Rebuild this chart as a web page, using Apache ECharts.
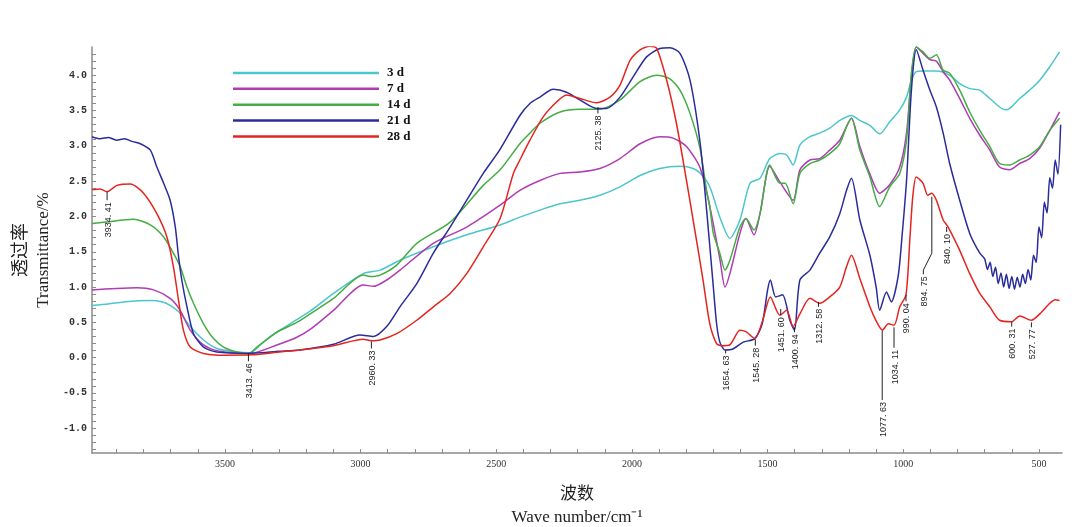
<!DOCTYPE html>
<html><head><meta charset="utf-8">
<script src="https://cdn.jsdelivr.net/npm/echarts@6/dist/echarts.min.js"></script>
<style>html,body{margin:0;padding:0;background:#fff}#c{width:1074px;height:527px}</style>
</head><body><div id="c"></div>
<script>
const seriesNames = ['3 d','7 d','14 d','21 d','28 d'];
const seriesColors = ['#4cc6cc','#b03cb4','#44ad44','#2a2c9c','#e42420'];

const wn3 = [3990,3930,3874,3775,3730,3702,3665,3628,3579,3530,3456,3407,3370,3333,3260,3186,3100,2990,2928,2855,2732,2609,2486,2413,2339,2265,2192,2118,2044,1970,1897,1823,1774,1745,1713,1676,1639,1602,1565,1528,1492,1455,1430,1406,1381,1344,1308,1271,1234,1191,1160,1123,1087,1050,1013,988,970,952,927,878,829,792,755,718,681,645,625,608,571,534,497,460,424];
const t3  = [0.74,0.76,0.79,0.81,0.79,0.74,0.63,0.44,0.25,0.13,0.08,0.07,0.18,0.30,0.48,0.66,0.91,1.19,1.24,1.38,1.57,1.74,1.88,1.99,2.09,2.18,2.23,2.30,2.42,2.58,2.68,2.71,2.68,2.60,2.42,1.99,1.69,1.95,2.47,2.54,2.82,2.89,2.87,2.73,3.01,3.13,3.18,3.25,3.36,3.43,3.36,3.29,3.17,3.34,3.51,3.69,3.93,4.05,4.06,4.06,4.00,3.88,3.81,3.79,3.67,3.55,3.51,3.53,3.67,3.79,3.93,4.12,4.33];

const wn7 = [3990,3900,3825,3763,3702,3665,3628,3579,3530,3407,3309,3235,3186,3100,2990,2953,2904,2855,2732,2609,2486,2413,2339,2265,2192,2118,2044,1970,1897,1848,1799,1749,1713,1676,1657,1639,1602,1580,1550,1528,1492,1455,1406,1381,1344,1308,1271,1234,1191,1160,1123,1087,1050,1013,988,970,952,927,902,878,853,829,792,755,718,681,645,608,571,534,497,460,424];
const t7  = [0.96,0.98,0.99,0.96,0.84,0.67,0.39,0.18,0.10,0.06,0.18,0.29,0.40,0.67,1.03,1.01,1.10,1.24,1.62,1.85,2.16,2.37,2.51,2.61,2.63,2.68,2.82,3.03,3.13,3.11,2.99,2.69,2.14,1.40,1.00,1.19,1.76,1.97,1.74,2.04,2.71,2.49,2.23,2.66,2.80,2.82,2.94,3.08,3.39,2.99,2.60,2.33,2.45,2.70,3.18,3.98,4.40,4.31,4.22,4.20,4.05,3.93,3.67,3.39,3.15,2.94,2.70,2.66,2.75,2.82,2.97,3.22,3.48];

const wn14 = [3990,3940,3837,3775,3726,3690,3665,3640,3616,3579,3542,3505,3456,3413,3382,3309,3235,3186,3100,2990,2965,2928,2867,2793,2670,2548,2486,2413,2376,2339,2265,2192,2118,2044,1970,1909,1860,1823,1786,1749,1725,1713,1700,1676,1657,1639,1602,1580,1550,1528,1492,1455,1435,1406,1381,1344,1308,1271,1234,1209,1191,1160,1123,1087,1050,1013,988,970,952,927,902,878,853,829,792,755,718,681,645,608,571,534,497,460,424];
const t14  = [1.90,1.92,1.96,1.88,1.71,1.48,1.29,1.00,0.77,0.48,0.27,0.15,0.08,0.06,0.15,0.36,0.50,0.62,0.84,1.17,1.15,1.17,1.31,1.62,1.92,2.44,2.66,3.03,3.18,3.32,3.48,3.52,3.52,3.65,3.91,4.00,3.95,3.79,3.46,2.96,2.37,2.14,1.76,1.48,1.24,1.38,1.85,1.97,1.81,2.04,2.73,2.47,2.47,2.18,2.61,2.75,2.80,2.89,3.03,3.27,3.39,2.94,2.56,2.14,2.42,2.61,3.08,4.03,4.40,4.33,4.24,4.29,4.07,4.03,3.79,3.48,3.22,2.99,2.75,2.73,2.80,2.87,2.99,3.22,3.39];

const wn21 = [3990,3960,3930,3900,3870,3840,3812,3775,3751,3726,3702,3683,3671,3659,3640,3616,3579,3530,3419,3300,3223,3100,3002,2953,2904,2855,2793,2732,2670,2609,2548,2486,2413,2376,2339,2290,2241,2192,2130,2093,2044,1995,1946,1897,1860,1823,1786,1749,1725,1700,1688,1676,1657,1630,1590,1547,1520,1500,1490,1470,1445,1418,1401,1381,1344,1308,1271,1234,1209,1191,1160,1123,1100,1087,1062,1044,1019,1005,988,970,952,927,902,878,853,829,792,755,718,700,690,680,670,660,650,640,630,620,610,600,590,580,570,560,550,540,530,520,510,500,490,480,470,460,450,440,430,420];
const t21  = [3.13,3.10,3.12,3.08,3.10,3.06,3.03,2.94,2.70,2.47,2.23,1.85,1.43,1.10,0.72,0.34,0.15,0.08,0.06,0.09,0.11,0.19,0.32,0.30,0.44,0.72,1.05,1.48,1.85,2.23,2.61,2.95,3.43,3.60,3.69,3.80,3.76,3.65,3.53,3.53,3.69,3.98,4.26,4.38,4.39,4.31,3.93,3.05,2.10,1.00,0.48,0.22,0.11,0.12,0.22,0.27,0.48,0.96,1.10,0.86,0.89,0.53,0.39,1.10,1.24,1.48,1.71,2.04,2.37,2.54,1.95,1.45,1.00,0.67,0.93,0.79,1.15,1.70,2.51,3.79,4.36,4.07,3.79,3.55,3.18,2.75,2.23,1.76,1.48,1.40,1.25,1.35,1.15,1.28,1.05,1.20,1.00,1.18,0.98,1.15,0.97,1.14,1.00,1.18,1.05,1.25,1.10,1.45,1.35,1.85,1.70,2.20,2.05,2.55,2.40,2.80,2.60,3.30];

const wn28 = [3990,3960,3935,3898,3849,3800,3751,3714,3690,3671,3653,3628,3579,3505,3400,3300,3223,3100,2990,2960,2928,2867,2793,2732,2670,2609,2548,2486,2437,2413,2376,2327,2278,2241,2192,2130,2081,2044,2007,1970,1934,1909,1872,1836,1799,1762,1738,1713,1688,1670,1640,1602,1580,1547,1518,1490,1455,1430,1406,1381,1344,1308,1271,1234,1209,1191,1160,1123,1100,1077,1055,1034,1013,990,976,965,952,927,910,895,878,853,840,829,792,755,718,681,645,600,571,528,497,460,440,424];
const t28  = [2.38,2.39,2.35,2.44,2.46,2.33,2.04,1.71,1.29,0.81,0.39,0.15,0.06,0.035,0.04,0.08,0.11,0.17,0.26,0.24,0.25,0.34,0.53,0.72,0.91,1.19,1.57,1.97,2.61,2.80,3.08,3.41,3.62,3.72,3.67,3.61,3.69,3.86,4.21,4.36,4.41,4.38,3.93,3.32,2.51,1.66,1.10,0.48,0.20,0.17,0.18,0.39,0.37,0.27,0.53,0.86,0.60,0.67,0.44,0.62,0.84,0.77,0.86,1.00,1.29,1.45,1.12,0.72,0.52,0.39,0.48,0.46,0.72,0.89,1.66,2.28,2.56,2.47,2.30,2.33,2.23,1.95,1.88,1.81,1.52,1.19,0.91,0.72,0.53,0.51,0.59,0.53,0.62,0.77,0.82,0.81];

const xLabelValues = [3500,3000,2500,2000,1500,1000,500];
const yLabelValues = [-1.0,-0.5,0.0,0.5,1.0,1.5,2.0,2.5,3.0,3.5,4.0];

const annText = ['3934. 41','3413. 46','2960. 33','2125. 38','1654. 63','1545. 28','1451. 60','1400. 94','1312. 58','1077. 63','1034. 11','990. 04','894. 75','840. 10','600. 31','527. 77'];
const annPaths = [
  [[3934.41,2.35],[3934.41,2.23]],
  [[3413.46,0.06],[3413.46,-0.05]],
  [[2960.33,0.23],[2960.33,0.13]],
  [[2125.38,3.55],[2125.38,3.46]],
  [[1654.63,0.11],[1654.63,0.06]],
  [[1545.28,0.26],[1545.28,0.17]],
  [[1451.60,0.69],[1451.60,0.60]],
  [[1400.94,0.43],[1400.94,0.36]],
  [[1312.58,0.79],[1312.58,0.72]],
  [[1077.63,0.38],[1077.63,-0.60]],
  [[1034.11,0.43],[1034.11,0.14]],
  [[990.04,0.89],[990.04,0.80]],
  [[894.75,2.28],[894.75,1.48],[926,1.24],[926,1.18]],
  [[840.10,1.85],[840.10,1.78]],
  [[600.31,0.51],[600.31,0.44]],
  [[527.77,0.50],[527.77,0.43]]
];

const xTickValues = []; for (let v = 500; v <= 3900; v += 100) xTickValues.push(v);
const yTickValues = []; for (let k = -13; k <= 43; k++) yTickValues.push(k / 10);

const wnList = [wn3, wn7, wn14, wn21, wn28];
const tList = [t3, t7, t14, t21, t28];

const chart = echarts.init(document.getElementById('c'), null, {renderer: 'canvas'});
const lineSeries = seriesNames.map((name, s) => ({
  name, type: 'line', showSymbol: false, symbol: 'none', smooth: 0.25,
  data: wnList[s].map((w, i) => [w, tList[s][i]]),
  lineStyle: {color: seriesColors[s], width: 1.5},
  itemStyle: {color: seriesColors[s]},
  z: 2 + s
}));

const annSeries = {
  type: 'custom', name: 'ann', silent: true, z: 20,
  data: annText.map((t, i) => [annPaths[i][0][0], annPaths[i][0][1], i]),
  encode: {x: 0, y: 1},
  renderItem: (params, api) => {
    const i = api.value(2);
    const pts = annPaths[i].map(p => api.coord(p));
    const last = pts[pts.length - 1];
    return {type: 'group', children: [
      {type: 'polyline', shape: {points: pts}, style: {stroke: '#222', lineWidth: 1, fill: 'none'}},
      {type: 'text', x: last[0] + 1, y: last[1] + 2, rotation: Math.PI / 2,
       style: {text: annText[i], align: 'right', textAlign: 'right', verticalAlign: 'middle', textVerticalAlign: 'middle',
               font: '9px "Liberation Sans"', fill: '#222'}}
    ]};
  }
};

chart.setOption({
  animation: false,
  backgroundColor: '#ffffff',
  grid: {left: 92, right: 12, top: 47, bottom: 74, outerBoundsMode: 'none', containLabel: false},
  legend: {
    data: seriesNames, orient: 'vertical', left: 228, top: 61,
    icon: 'rect', itemWidth: 146, itemHeight: 2.5, itemGap: 1.85,
    textStyle: {fontFamily: 'Liberation Serif', fontWeight: 'bold', fontSize: 13, color: '#111', lineHeight: 14, padding: [0, 0, 0, 3]}
  },
  xAxis: {
    type: 'value', inverse: true, min: 415, max: 3990,
    axisLine: {show: true, onZero: false, lineStyle: {color: '#8a8a8a', width: 1.5}},
    axisTick: {show: true, inside: true, length: 4, customValues: xTickValues, lineStyle: {color: '#8a8a8a'}},
    axisLabel: {customValues: xLabelValues, formatter: v => String(Math.round(v)), fontFamily: 'Liberation Serif', fontSize: 10, color: '#333', margin: 6},
    splitLine: {show: false},
    name: '{a|波数}\n{b|Wave number/cm⁻¹}', nameLocation: 'middle', nameGap: 27,
    nameTextStyle: {rich: {
      a: {fontFamily: 'Noto Sans CJK SC', fontSize: 17, lineHeight: 25, color: '#222'},
      b: {fontFamily: 'Liberation Serif', fontSize: 17, lineHeight: 25, color: '#222'}
    }}
  },
  yAxis: {
    type: 'value', min: -1.35, max: 4.4,
    axisLine: {show: true, onZero: false, lineStyle: {color: '#8a8a8a', width: 1.5}},
    axisTick: {show: true, inside: true, length: 4, customValues: yTickValues, lineStyle: {color: '#8a8a8a'}},
    axisLabel: {customValues: yLabelValues, formatter: v => Number(v).toFixed(1), fontFamily: 'Liberation Mono', fontWeight: 'bold', fontSize: 10, color: '#333', margin: 5},
    splitLine: {show: false},
    name: '{a|透过率}\n{b|Transmittance/%}', nameLocation: 'middle', nameGap: 30, nameRotate: 90,
    nameTextStyle: {rich: {
      a: {fontFamily: 'Noto Sans CJK SC', fontSize: 18, lineHeight: 24, color: '#222'},
      b: {fontFamily: 'Liberation Serif', fontSize: 17, lineHeight: 24, color: '#222'}
    }}
  },
  series: [...lineSeries, annSeries]
});
</script></body></html>
